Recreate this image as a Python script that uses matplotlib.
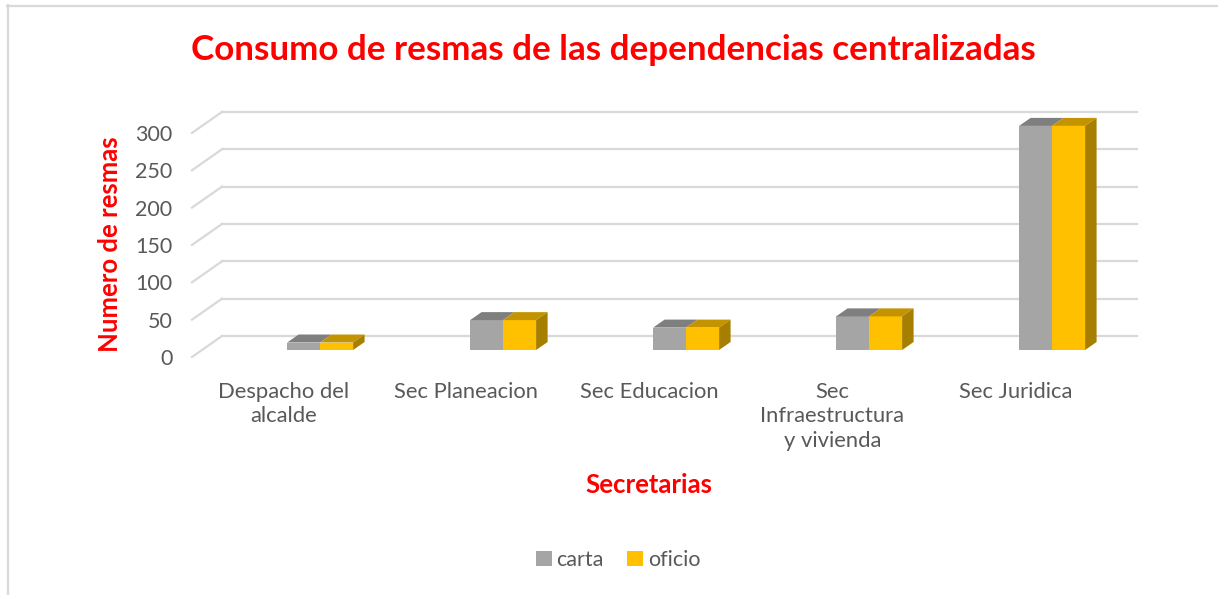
import matplotlib
matplotlib.use("Agg")
import matplotlib.pyplot as plt
from matplotlib.patches import Polygon, Rectangle
from matplotlib.lines import Line2D
import numpy as np

# ---- data ----
categories = ["Despacho del\nalcalde", "Sec Planeacion", "Sec Educacion",
              "Sec\nInfraestructura\ny vivienda", "Sec Juridica"]
carta = [10, 40, 30, 45, 300]
oficio = [10, 40, 30, 45, 300]
series_names = ["carta", "oficio"]
yticks = [0, 50, 100, 150, 200, 250, 300]

# ---- styling ----
FONT = "Lato"
RED = "#ff0000"
GRAY_TXT = "#595959"
GRID = "#d9d9d9"
front_cols = ["#a5a5a5", "#ffc000"]
top_cols = ["#7f7f7f", "#c49400"]
side_cols = ["#7c7c7c", "#a67e00"]

W, H = 1218, 595
fig = plt.figure(figsize=(W / 100, H / 100), dpi=100)

# axes in pixel geometry
px_left, px_right = 192, 1140
px_bottom, px_top = 365, 100
ax = fig.add_axes([px_left / W, 1 - px_bottom / H,
                   (px_right - px_left) / W, (px_bottom - px_top) / H])
ppu_x = 183.0          # pixels per category
ppu_y = 0.747          # pixels per value unit
ax.set_xlim(-0.5, -0.5 + (px_right - px_left) / ppu_x)
ax.set_ylim(-(px_bottom - 357) / ppu_y, (357 - px_top) / ppu_y)
for s in ax.spines.values():
    s.set_visible(False)

# depth offsets (data units)
wall_dx, wall_dy = 30 / ppu_x, 21 / ppu_y
bar_dx, bar_dy = 11.5 / ppu_x, 8 / ppu_y
bar_base = 7 / ppu_y
bar_w = 33 / ppu_x
pair_off = 0.2

x_end = ax.get_xlim()[1] - 0.015
# back wall gridlines and slanted floor/wall lines
for v in yticks:
    ax.add_line(Line2D([-0.5 + wall_dx, x_end], [v + wall_dy, v + wall_dy],
                       color=GRID, lw=1.6, zorder=1, clip_on=False))
    ax.add_line(Line2D([-0.5, -0.5 + wall_dx], [v, v + wall_dy],
                       color=GRID, lw=1.6, zorder=1, clip_on=False))

# bars (pseudo 3D)
x = np.arange(len(categories))
for si, vals in enumerate([carta, oficio]):
    for i, v in enumerate(vals):
        x0 = x[i] + pair_off + (si - 1) * bar_w
        x1 = x0 + bar_w
        b = bar_base
        t = bar_base + v
        ax.add_patch(Rectangle((x0, b), bar_w, v, facecolor=front_cols[si],
                               edgecolor="none", zorder=3 + i))
        ax.add_patch(Polygon([(x0, t), (x1, t), (x1 + bar_dx, t + bar_dy),
                              (x0 + bar_dx, t + bar_dy)], closed=True,
                             facecolor=top_cols[si], edgecolor="none",
                             zorder=3 + i))
        if si == 1:
            ax.add_patch(Polygon([(x1, b), (x1, t), (x1 + bar_dx, t + bar_dy),
                                  (x1 + bar_dx, b + bar_dy)], closed=True,
                                 facecolor=side_cols[si], edgecolor="none",
                                 zorder=3 + i))

# ticks
ax.set_yticks(yticks)
ax.set_yticklabels([str(t) for t in yticks], fontsize=15.5, color=GRAY_TXT,
                   family=FONT)
ax.tick_params(axis="y", length=0, pad=14)
ax.set_xticks(x)
ax.set_xticklabels(categories, fontsize=15.8, color=GRAY_TXT, family=FONT,
                   linespacing=1.3, va="top")
ax.tick_params(axis="x", length=0, pad=12)

# axis titles
ax.set_ylabel("Numero de resmas", fontsize=18.5, color=RED, weight="bold",
              family=FONT)
ax.yaxis.set_label_coords((110 - px_left) / (px_right - px_left),
                          (px_bottom - 244) / (px_bottom - px_top))
ax.yaxis.label.set_va("center")
fig.text(649 / W, 1 - 485 / H, "Secretarias", fontsize=18.5, color=RED,
         weight="bold", family=FONT, ha="center", va="center")

# title
fig.text(613 / W, 1 - 50 / H, "Consumo de resmas de las dependencias centralizadas",
         fontsize=25.2, color=RED, weight="bold", family=FONT,
         ha="center", va="center")

# legend
handles = [Rectangle((0, 0), 1, 1, facecolor=c, edgecolor="none")
           for c in front_cols]
fig.legend(handles, series_names, loc="center", bbox_to_anchor=(618 / W, 1 - 560 / H),
           ncol=2, frameon=False, prop={"family": FONT, "size": 15.5},
           labelcolor=GRAY_TXT, handlelength=0.75, handleheight=0.75,
           handletextpad=0.2, columnspacing=1.1)

# chart border (left and top visible)
fig.add_artist(Line2D([7.5 / W, 7.5 / W], [0, 1 - 5 / H], color=GRID, lw=1.6,
                      transform=fig.transFigure))
fig.add_artist(Line2D([7 / W, 1], [1 - 5.5 / H, 1 - 5.5 / H], color=GRID, lw=1.6,
                      transform=fig.transFigure))

fig.savefig("out.png", dpi=100, facecolor="white")
